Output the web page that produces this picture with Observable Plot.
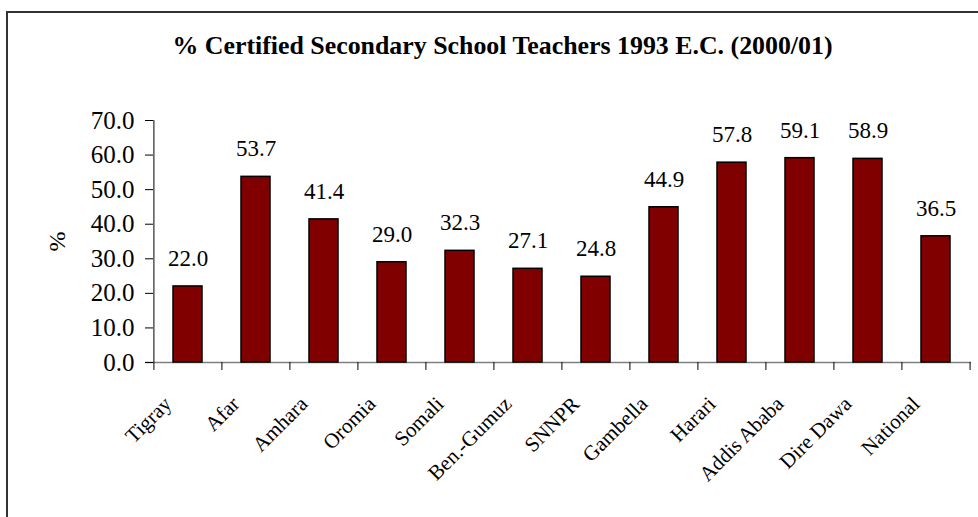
<!DOCTYPE html>
<html>
<head>
<meta charset="utf-8">
<script src="https://cdn.jsdelivr.net/npm/d3@7"></script>
<script src="https://cdn.jsdelivr.net/npm/@observablehq/plot@0.6"></script>
<style>
  html, body { margin: 0; padding: 0; background: #fff; }
  svg { display: block; }
</style>
</head>
<body>
<div id="chart"></div>
<script>
const title = "% Certified Secondary School Teachers 1993 E.C. (2000/01)";
const regions = ["Tigray", "Afar", "Amhara", "Oromia", "Somali", "Ben.-Gumuz", "SNNPR", "Gambella", "Harari", "Addis Ababa", "Dire Dawa", "National"];
const values = [22.0, 53.7, 41.4, 29.0, 32.3, 27.1, 24.8, 44.9, 57.8, 59.1, 58.9, 36.5];
const yTicks = [0, 10, 20, 30, 40, 50, 60, 70];
const yLabel = "%";

const data = regions.map((r, i) => ({region: r, value: values[i]}));
const serif = "'Liberation Serif', 'Times New Roman', serif";
const W = 978, H = 517;
const mL = 153, mR = 7, mT = 120, mB = 155;
const half = (W - mL - mR) / regions.length / 2;

const chart = Plot.plot({
  width: W,
  height: H,
  marginLeft: mL,
  marginRight: mR,
  marginTop: mT,
  marginBottom: mB,
  style: {fontFamily: serif, background: "#fff", color: "#000"},
  x: {domain: regions, paddingInner: 0.57, paddingOuter: 0.285, axis: null},
  y: {domain: [0, 70], axis: null},
  marks: [
    // gray category axis line
    Plot.ruleY([0], {stroke: "#808080", strokeWidth: 1.5, insetLeft: -8}),
    // category boundary ticks
    Plot.ruleX(regions, {x: d => d, y1: () => 0, y2: () => 0, dx: -half, insetBottom: -8, stroke: "#000"}),
    Plot.ruleX([regions[regions.length - 1]], {x: d => d, y1: () => 0, y2: () => 0, dx: half, insetBottom: -8, stroke: "#000"}),
    // value axis line
    Plot.ruleX([regions[0]], {x: d => d, y1: () => 0, y2: () => 70, dx: -half, stroke: "#000"}),
    Plot.axisY({
      ticks: yTicks,
      tickFormat: d3.format(".1f"),
      tickSize: 8,
      tickPadding: 11,
      fontSize: 25,
      stroke: "#000",
      label: yLabel,
      labelAnchor: "center",
      labelArrow: "none",
      labelOffset: 106
    }),
    Plot.axisX({
      tickSize: 0,
      tickRotate: -45,
      tickPadding: 38,
      fontSize: 21,
      dx: -20,
      label: null
    }),
    Plot.barY(data, {x: "region", y: "value", fill: "#800000", stroke: "#000", strokeWidth: 1.5}),
    Plot.text(data, {x: "region", y: "value", text: d => d.value.toFixed(1), dy: -28, fontSize: 23, fill: "#000"}),
    Plot.text([title], {frameAnchor: "top", lineAnchor: "middle", dx: -60, dy: -75, fontSize: 25, fontWeight: "bold", fill: "#000"})
  ]
});

const svg = d3.select(chart);
// outer chart-area border (decorative)
svg.insert("rect", ":first-child")
  .attr("x", 7).attr("y", 12).attr("width", 1000).attr("height", 1000)
  .attr("fill", "none").attr("stroke", "#333").attr("stroke-width", 2);
svg.selectAll("g[aria-label='y-axis label'] text").attr("font-size", 24);
// title width as in the reference
svg.selectAll("text").filter(function() { return this.textContent === title; })
  .attr("textLength", 660).attr("lengthAdjust", "spacingAndGlyphs");

document.getElementById("chart").appendChild(chart);
</script>
</body>
</html>
